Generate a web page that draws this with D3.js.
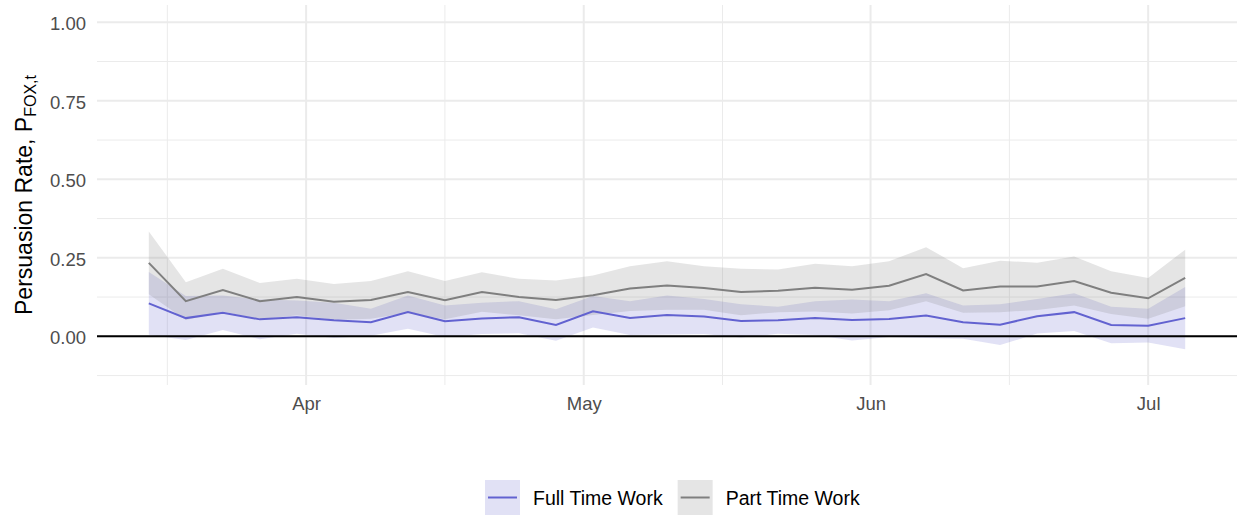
<!DOCTYPE html>
<html>
<head>
<meta charset="utf-8">
<script src="https://cdn.jsdelivr.net/npm/d3@7"></script>
<style>
  body { margin: 0; background: #fff; }
  text { font-family: "Liberation Sans", Arial, sans-serif; }
</style>
</head>
<body>
<div class="chart"></div>
<script>
// survey dates, every 4 days
var dates = ["2020-03-15","2020-03-19","2020-03-23","2020-03-27","2020-03-31","2020-04-04","2020-04-08",
  "2020-04-12","2020-04-16","2020-04-20","2020-04-24","2020-04-28","2020-05-02","2020-05-06","2020-05-10",
  "2020-05-14","2020-05-18","2020-05-22","2020-05-26","2020-05-30","2020-06-03","2020-06-07","2020-06-11",
  "2020-06-15","2020-06-19","2020-06-23","2020-06-27","2020-07-01","2020-07-05"];

// full time work: estimate and 95% band
var fullMean = [0.105,0.058,0.075,0.054,0.061,0.051,0.045,0.077,0.048,0.057,0.061,0.036,0.080,0.058,0.068,
  0.063,0.049,0.051,0.058,0.052,0.055,0.066,0.045,0.037,0.064,0.077,0.036,0.034,0.058];
var fullLo = [0.005,-0.012,0.020,-0.009,0.008,-0.005,0.002,0.024,-0.002,0.007,0.010,-0.014,0.028,0.004,0.006,
  0.007,-0.004,0.008,0.004,-0.013,-0.002,-0.005,-0.008,-0.028,0.009,0.017,-0.022,-0.020,-0.041];
var fullHi = [0.205,0.128,0.130,0.117,0.114,0.107,0.088,0.130,0.098,0.107,0.112,0.086,0.128,0.112,0.130,
  0.119,0.102,0.094,0.112,0.117,0.112,0.137,0.098,0.102,0.119,0.137,0.094,0.088,0.157];

// part time work
var partMean = [0.234,0.112,0.147,0.112,0.125,0.110,0.116,0.141,0.115,0.141,0.125,0.116,0.131,0.152,0.162,
  0.154,0.141,0.145,0.155,0.148,0.161,0.198,0.146,0.159,0.159,0.176,0.139,0.121,0.186];
var partLo = [0.134,0.052,0.079,0.054,0.067,0.053,0.056,0.075,0.054,0.078,0.067,0.054,0.068,0.081,0.085,
  0.085,0.067,0.077,0.079,0.073,0.083,0.112,0.075,0.077,0.084,0.098,0.071,0.056,0.096];
var partHi = [0.334,0.172,0.215,0.170,0.183,0.167,0.176,0.207,0.176,0.204,0.183,0.178,0.194,0.223,0.239,
  0.223,0.215,0.213,0.231,0.223,0.239,0.284,0.217,0.241,0.234,0.254,0.207,0.186,0.276];

var seriesNames = ["Full Time Work", "Part Time Work"];
var yTicks = [0, 0.25, 0.5, 0.75, 1];
var yMinor = [-0.125, 0.125, 0.375, 0.625, 0.875];
var xTicks = ["2020-04-01", "2020-05-01", "2020-06-01", "2020-07-01"];
var xMinor = ["2020-03-17", "2020-04-16", "2020-05-16", "2020-06-16"];

var parse = d3.utcParse("%Y-%m-%d");

var lineCol = ["#6262d0", "#7f7f7f"];
var fillCol = ["#6a6acd", "#7f7f7f"];

var W = 1238, H = 518;
var panel = {left: 97, right: 1237, top: 5, bottom: 385};

var svg = d3.select(".chart").append("svg").attr("width", W).attr("height", H);

// x scale with ggplot style 5% expansion
var d0 = parse(dates[0]), d1 = parse(dates[dates.length - 1]);
var pad = (d1 - d0) * 0.05;
var x = d3.scaleUtc().domain([new Date(+d0 - pad), new Date(+d1 + pad)]).range([panel.left, panel.right]);
var y = d3.scaleLinear().domain([-0.155, 1.055]).range([panel.bottom, panel.top]);

var grid = svg.append("g");
grid.selectAll(".ymin").data(yMinor).enter().append("line")
  .attr("x1", panel.left).attr("x2", panel.right)
  .attr("y1", d => y(d)).attr("y2", d => y(d))
  .attr("stroke", "#ebebeb").attr("stroke-width", 1);
grid.selectAll(".xmin").data(xMinor).enter().append("line")
  .attr("y1", panel.top).attr("y2", panel.bottom)
  .attr("x1", d => x(parse(d))).attr("x2", d => x(parse(d)))
  .attr("stroke", "#ebebeb").attr("stroke-width", 1);
grid.selectAll(".ymaj").data(yTicks).enter().append("line")
  .attr("x1", panel.left).attr("x2", panel.right)
  .attr("y1", d => y(d)).attr("y2", d => y(d))
  .attr("stroke", "#ebebeb").attr("stroke-width", 2);
grid.selectAll(".xmaj").data(xTicks).enter().append("line")
  .attr("y1", panel.top).attr("y2", panel.bottom)
  .attr("x1", d => x(parse(d))).attr("x2", d => x(parse(d)))
  .attr("stroke", "#ebebeb").attr("stroke-width", 2);

var series = [
  {mean: fullMean, lo: fullLo, hi: fullHi},
  {mean: partMean, lo: partLo, hi: partHi}
];

var area = d3.area()
  .x((d, i) => x(parse(dates[i])))
  .y0(d => y(d[0])).y1(d => y(d[1]));
var line = d3.line()
  .x((d, i) => x(parse(dates[i])))
  .y(d => y(d));

series.forEach(function(s, k) {
  svg.append("path")
    .datum(s.lo.map((v, i) => [v, s.hi[i]]))
    .attr("d", area)
    .attr("fill", fillCol[k]).attr("fill-opacity", 0.2);
});
series.forEach(function(s, k) {
  svg.append("path")
    .datum(s.mean)
    .attr("d", line)
    .attr("fill", "none").attr("stroke", lineCol[k]).attr("stroke-width", 2);
});

// zero line
svg.append("line")
  .attr("x1", panel.left).attr("x2", panel.right)
  .attr("y1", y(0)).attr("y2", y(0))
  .attr("stroke", "#000").attr("stroke-width", 2);

// y axis labels
var yAxis = d3.axisLeft(y).tickValues(yTicks).tickFormat(d3.format(".2f")).tickSize(0).tickPadding(0);
var yg = svg.append("g").attr("transform", "translate(86,0)").call(yAxis);
yg.select(".domain").remove();
yg.selectAll("text").attr("font-size", 18.5).attr("fill", "#4d4d4d")
  .attr("font-family", "Liberation Sans, Arial, sans-serif").attr("dy", "0.4em");

// x axis labels
var xAxis = d3.axisBottom(x).tickValues(xTicks.map(parse)).tickFormat(d3.utcFormat("%b")).tickSize(0).tickPadding(0);
var xg = svg.append("g").attr("transform", "translate(0,410)").call(xAxis);
xg.select(".domain").remove();
xg.selectAll("text").attr("font-size", 18.5).attr("fill", "#4d4d4d")
  .attr("font-family", "Liberation Sans, Arial, sans-serif").attr("dy", 0);

// y title
var yt = svg.append("text")
  .attr("transform", "translate(31.5," + (panel.top + panel.bottom) / 2 + ") rotate(-90)")
  .attr("text-anchor", "middle").attr("font-size", 23).attr("fill", "#000");
yt.append("tspan").text("Persuasion Rate, P");
yt.append("tspan").attr("font-size", 16).attr("dy", 4).text("FOX,t");

// legend
var lg = svg.append("g");
var lx = 485;
seriesNames.forEach(function(name, k) {
  lg.append("rect").attr("x", lx).attr("y", 480).attr("width", 35).attr("height", 35)
    .attr("fill", fillCol[k]).attr("fill-opacity", 0.2);
  lg.append("line").attr("x1", lx + 3).attr("x2", lx + 32).attr("y1", 497.5).attr("y2", 497.5)
    .attr("stroke", lineCol[k]).attr("stroke-width", 2);
  var t = lg.append("text").attr("x", lx + 48).attr("y", 504.5)
    .attr("font-size", 19.5).attr("fill", "#000").text(name);
  lx = lx + 48 + t.node().getComputedTextLength() + 15;
});
</script>
</body>
</html>
